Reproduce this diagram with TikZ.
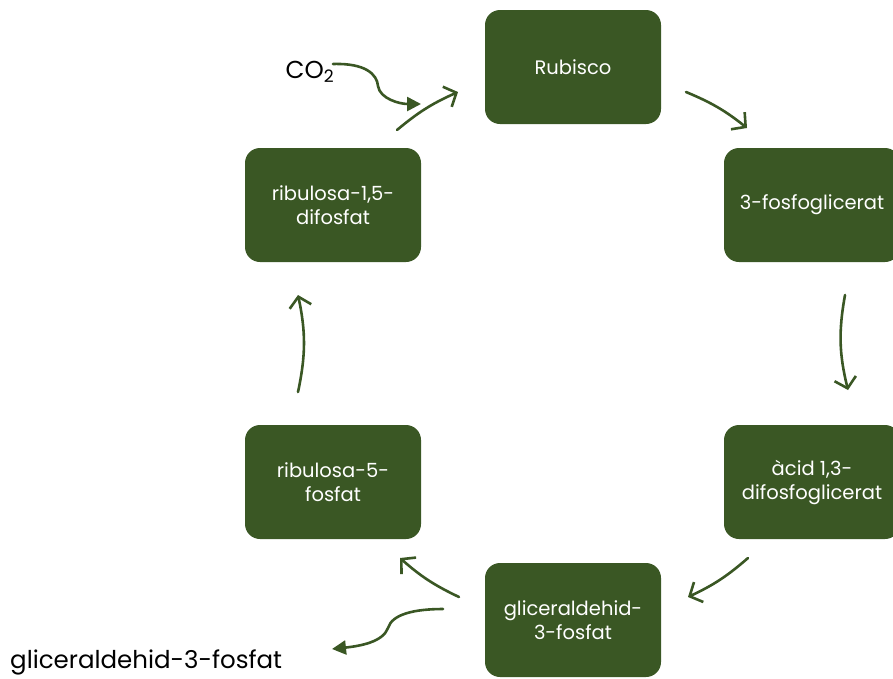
\documentclass[tikz,border=0pt]{standalone}
\usepackage{fontspec}
\setmainfont{Poppins}
\usetikzlibrary{arrows.meta}
\definecolor{leaf}{RGB}{58,87,36}
\tikzset{
	stage/.style={fill=leaf, rounded corners=15pt, minimum width=176pt, minimum height=114pt,
		text=white, align=center, font=\fontsize{19.5}{24}\selectfont, inner sep=0pt},
	cycle/.style={draw=leaf, line width=2.6pt, line cap=round, -{Straight Barb[length=10pt,width=22pt,line width=2.6pt]}},
	side/.style={draw=leaf, line width=2.6pt, line cap=round, -{Triangle[length=14pt,width=14pt]}},
	outer/.style={text=black, font=\fontsize{24.5}{28}\selectfont, inner sep=0pt}
}
\begin{document}
\begin{tikzpicture}[x=1pt,y=-1pt]
	\useasboundingbox (0,0) rectangle (893,678);
	\begin{scope}
		\clip (0,0) rectangle (893,678);
		\node[stage] (rub) at (573,67) {Rubisco};
		\node[stage] (pga) at (812,205) {3-fosfoglicerat};
		\node[stage] (bpg) at (812,482) {àcid 1,3-\\difosfoglicerat};
		\node[stage] (gap) at (573,620) {gliceraldehid-\\3-fosfat};
		\node[stage] (r5p) at (333,482) {ribulosa-5-\\fosfat};
		\node[stage] (rbp) at (333,205) {ribulosa-1,5-\\difosfat};
	\end{scope}

	\node[outer] (co) at (310,72) {CO\textsubscript{2}};
	\node[outer, anchor=west] (out) at (10,662) {gliceraldehid-3-fosfat};

	% ends of the cycle arrows
	\coordinate (a1) at (686,92);   \coordinate (b1) at (747,128);
	\coordinate (a2) at (845,295);  \coordinate (b2) at (848,390);
	\coordinate (a3) at (748,558);  \coordinate (b3) at (688,597);
	\coordinate (a4) at (459,597);  \coordinate (b4) at (400,558);
	\coordinate (a5) at (298,392);  \coordinate (b5) at (298,295);
	\coordinate (a6) at (397,130);  \coordinate (b6) at (458,92);

	\draw[cycle] (a1) to[bend left=8] (b1);
	\draw[cycle] (a2) to[bend right=12] (b2);
	\draw[cycle] (a3) to[bend left=8] (b3);
	\draw[cycle] (a4) to[bend left=8] (b4);
	\draw[cycle] (a5) to[bend right=12] (b5);
	\draw[cycle] (a6) to[bend left=8] (b6);

	% carbon in and out
	\coordinate (in) at (421,104);
	\coordinate (off) at (443,609);
	\coordinate (tip) at (332,649);
	\draw[side] (333,64) .. controls (365,63) and (377,74) .. (378,86)
		.. controls (380,99) and (400,104) .. (in);
	\draw[side] (off) .. controls (415,609) and (392,614) .. (388,628)
		.. controls (383,642) and (360,646) .. (tip);
\end{tikzpicture}
\end{document}
